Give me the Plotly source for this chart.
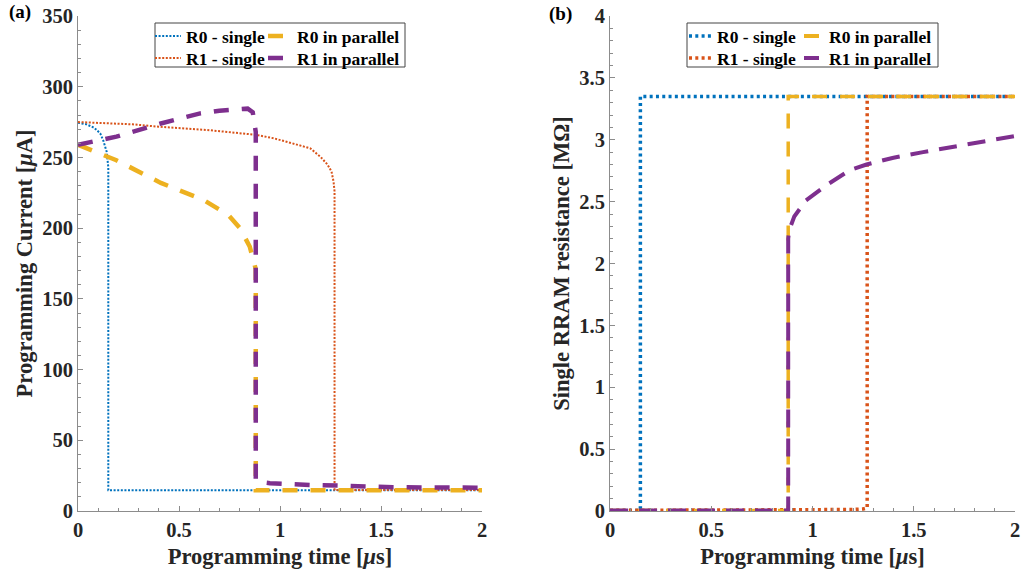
import plotly.graph_objects as go

# ---------------- (a) programming current [uA] vs programming time [us]
t_r0_single = [0, 0.04, 0.08, 0.11, 0.125, 0.142, 0.15, 0.15, 0.6, 1.0, 1.5, 2.0]
i_r0_single = [274.5, 273.5, 271, 267, 262, 254, 243, 14.6, 14.6, 14.6, 14.6, 14.6]

t_r1_single = [0, 0.27, 0.4, 0.64, 0.88, 0.97, 1.06, 1.15, 1.2, 1.235, 1.255, 1.265, 1.27, 1.27, 1.5, 2.0]
i_r1_single = [275, 273.4, 271.7, 269.4, 266, 263.5, 260, 256.4, 250.5, 245, 240, 233, 226, 14.8, 14.8, 14.8]

t_r0_parallel = [0, 0.19, 0.41, 0.62, 0.744, 0.802, 0.85, 0.876, 0.88, 0.88, 1.5, 2.0]
i_r0_parallel = [259, 248, 232, 220, 209.3, 199.9, 187, 172.7, 171, 14.6, 14.6, 14.6]

t_r1_parallel = [0, 0.19, 0.41, 0.6, 0.7, 0.77, 0.81, 0.84, 0.865, 0.873, 0.88, 0.88,
                 0.9, 0.95, 1.016, 1.149, 1.3, 1.56, 1.97, 2.0]
i_r1_parallel = [259, 264.7, 274, 281, 283, 284, 284.7, 284.5, 282, 275, 268, 21.5,
                 20.5, 19.7, 19.1, 18.4, 17.9, 16.8, 16.5, 16.5]

# ---------------- (b) single RRAM resistance [MOhm] vs programming time [us]
t_r0_single_res = [0, 0.15, 0.15, 2.0]
r_r0_single_res = [0.005, 0.005, 3.35, 3.35]

t_r1_single_res = [0, 1.0, 1.2, 1.25, 1.27, 1.27, 2.0]
r_r1_single_res = [0.005, 0.007, 0.012, 0.017, 0.025, 3.35, 3.35]

t_r0_parallel_res = [0, 0.88, 0.88, 2.0]
r_r0_parallel_res = [0.005, 0.005, 3.35, 3.35]

t_r1_parallel_res = [0, 0.88, 0.88, 0.885, 0.91, 0.968, 1.07, 1.185, 1.267, 1.4, 1.546, 1.712, 1.96, 2.0]
r_r1_parallel_res = [0.005, 0.005, 2.2, 2.27, 2.38, 2.51, 2.634, 2.755, 2.80, 2.855, 2.90, 2.95, 3.025, 3.03]

names = ["R0 - single", "R1 - single", "R0 in parallel", "R1 in parallel"]
x_ticks = [0, 0.5, 1, 1.5, 2]

BLUE, ORANGE, YELLOW, PURPLE = "#0072BD", "#D95319", "#EDB120", "#7E2F8E"
FONT = "Liberation Serif"
INK = "#262626"

# canvas geometry (pixels) and helpers to place items in paper coordinates
W, H = 1021, 571
ML, MR, MT, MB = 78, 6, 16, 60
PW, PH = W - ML - MR, H - MT - MB


def px(xp):
    return (xp - ML) / PW


def py(yp):
    return (H - MB - yp) / PH


def offset_pattern(lead, on, off, reps):
    """Dash array that starts with a blank lead-in, then repeats on/off."""
    return ",".join([f"0px,{lead}px"] + [f"{on}px,{off}px"] * reps)


fig = go.Figure()

DOT_A = dict(width=2, dash="2px,1.6px")
DOT_B = dict(width=3.5, dash="3px,3.3px")
styles_a = [
    dict(color=BLUE, **DOT_A),
    dict(color=ORANGE, **DOT_A),
    dict(color=YELLOW, width=4.5, dash="15px,13px"),
    dict(color=PURPLE, width=4.5, dash="15px,13px"),
]
styles_b = [
    dict(color=BLUE, **DOT_B),
    dict(color=ORANGE, **DOT_B),
    dict(color=YELLOW, width=3.5, dash="15px,13px"),
    dict(color=PURPLE, width=4, dash="18px,11px"),
]

series_a = [(t_r0_single, i_r0_single), (t_r1_single, i_r1_single),
            (t_r0_parallel, i_r0_parallel), (t_r1_parallel, i_r1_parallel)]
series_b = [(t_r0_single_res, r_r0_single_res), (t_r1_single_res, r_r1_single_res),
            (t_r0_parallel_res, r_r0_parallel_res), (t_r1_parallel_res, r_r1_parallel_res)]

for (tx, vy), st, nm in zip(series_a, styles_a, names):
    fig.add_trace(go.Scatter(x=tx, y=vy, mode="lines", line=st, name=nm,
                             showlegend=False, xaxis="x", yaxis="y"))
for (tx, vy), st, nm in zip(series_b, styles_b, names):
    fig.add_trace(go.Scatter(x=tx, y=vy, mode="lines", line=st, name=nm,
                             showlegend=False, xaxis="x2", yaxis="y2"))

# legend samples: one single-entry legend per slot so rows/columns sit exactly
legend_font = dict(family=FONT, size=17.5, color="black", weight="bold")
rows_y = [36, 58]
dot_a_leg = offset_pattern(4, 2, 1.6, 8)
dot_b_leg = offset_pattern(7, 3, 3.3, 4)
legend_slots = [
    # (panel, column x px, sample styles for the two rows)
    ("a", 146, [dict(color=BLUE, width=2, dash=dot_a_leg),
                dict(color=ORANGE, width=2, dash=dot_a_leg)]),
    ("a", 257, [dict(color=YELLOW, width=4.5, dash="0px,6px,15px,40px"),
                dict(color=PURPLE, width=4.5, dash="0px,6px,15px,40px")]),
    ("b", 677, [dict(color=BLUE, width=3.5, dash=dot_b_leg),
                dict(color=ORANGE, width=3.5, dash=dot_b_leg)]),
    ("b", 789, [dict(color=YELLOW, width=4, dash="0px,10px,15px,40px"),
                dict(color=PURPLE, width=4, dash="0px,10px,15px,40px")]),
]
legend_layouts = {}
k = 0
for col, (panel, xcol, sts) in enumerate(legend_slots):
    for row in range(2):
        k += 1
        lname = "legend" if k == 1 else f"legend{k}"
        nm = names[(col % 2) * 2 + row]
        fig.add_trace(go.Scatter(
            x=[None], y=[None], mode="lines", line=sts[row], name=nm,
            legend=lname, showlegend=True,
            xaxis="x" if panel == "a" else "x2",
            yaxis="y" if panel == "a" else "y2"))
        legend_layouts[lname] = dict(
            x=px(xcol), y=py(rows_y[row]), xanchor="left", yanchor="middle",
            bgcolor="rgba(0,0,0,0)", borderwidth=0, font=legend_font)

axis_common = dict(
    showgrid=False, zeroline=False, showline=True, linecolor="#8c8c8c", linewidth=1,
    ticks="inside", ticklen=5, tickwidth=1, tickcolor="#8c8c8c",
    tickfont=dict(family=FONT, size=20.5, color=INK, weight="bold"),
    mirror=False,
)
title_font = dict(family=FONT, size=22.5, color=INK, weight="bold")
minor = dict(ticks="inside", ticklen=3, tickwidth=1, tickcolor="#8c8c8c", showgrid=False)

fig.update_layout(
    width=W, height=H,
    margin=dict(l=ML, r=MR, t=MT, b=MB, autoexpand=False),
    paper_bgcolor="white", plot_bgcolor="white",
    xaxis=dict(axis_common, domain=[0, px(482)], range=[0, 2], tickvals=x_ticks,
               minor=dict(minor, dtick=0.1), anchor="y",
               title=dict(text="Programming time [<i>μ</i>s]", font=title_font, standoff=8)),
    yaxis=dict(axis_common, range=[0, 350], dtick=50, minor=dict(minor, dtick=10), anchor="x",
               title=dict(text="Programming Current [<i>μ</i>A]", font=title_font, standoff=3)),
    xaxis2=dict(axis_common, domain=[px(610), 1], range=[0, 2], tickvals=x_ticks,
                minor=dict(minor, dtick=0.1), anchor="y2",
                title=dict(text="Programming time [<i>μ</i>s]", font=title_font, standoff=8)),
    yaxis2=dict(axis_common, range=[0, 4], dtick=0.5, minor=dict(minor, dtick=0.1), anchor="x2",
                title=dict(text="Single RRAM resistance [MΩ]", font=title_font, standoff=3)),
    shapes=[
        dict(type="rect", xref="paper", yref="paper", x0=px(155), x1=px(405),
             y0=py(67), y1=py(23), line=dict(color="#444444", width=1),
             fillcolor="white", layer="above"),
        dict(type="rect", xref="paper", yref="paper", x0=px(687), x1=px(938),
             y0=py(67), y1=py(23), line=dict(color="#444444", width=1),
             fillcolor="white", layer="above"),
    ],
    annotations=[
        dict(text="(a)", xref="paper", yref="paper", x=px(20), y=py(12),
             xanchor="center", yanchor="middle", showarrow=False,
             font=dict(family=FONT, size=19, color="black", weight="bold")),
        dict(text="(b)", xref="paper", yref="paper", x=px(560), y=py(14),
             xanchor="center", yanchor="middle", showarrow=False,
             font=dict(family=FONT, size=19, color="black", weight="bold")),
    ],
    **legend_layouts,
)

fig.write_html("out.html")
